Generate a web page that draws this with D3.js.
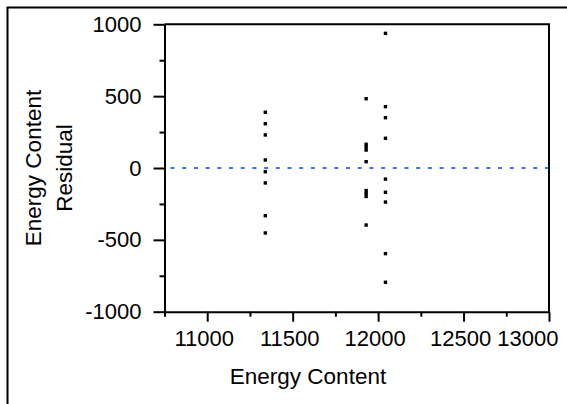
<!DOCTYPE html>
<html>
<head>
<meta charset="utf-8">
<script src="https://cdn.jsdelivr.net/npm/d3@7"></script>
<style>
  html, body { margin: 0; padding: 0; background: #fff; }
  svg { display: block; }
  text { font-family: "Liberation Sans", Arial, sans-serif; fill: #000; }
</style>
</head>
<body>
<script>
// Residual-by-predicted plot for Energy Content
const energyContent = [
  11340, 11340, 11340, 11340, 11340, 11340, 11340, 11340,
  11930, 11930, 11930, 11930, 11930, 11930, 11930, 11930, 11930,
  12043, 12043, 12043, 12043, 12043, 12043, 12043, 12043, 12043
];
const residuals = [
  388, 308, 230, 56, -26, -104, -332, -452,
  482, 165, 145, 125, 44, -157, -177, -198, -397,
  937, 427, 350, 207, -77, -169, -237, -596, -795
];
const xMajorTicks = [11000, 11500, 12000, 12500, 13000];
const xMinorTicks = [10750, 11250, 11750, 12250, 12750];
const yMajorTicks = [-1000, -500, 0, 500, 1000];
const yMinorTicks = [-750, -250, 250, 750];
const xTitle = "Energy Content";
const yTitleLines = ["Energy Content", "Residual"];

const W = 567, H = 404;
const plot = { left: 164.5, right: 549, top: 24.3, bottom: 311.7 };
const fmt = v => String(v); // plain hyphen-minus for negatives

const svg = d3.select("body").append("svg")
  .attr("width", W).attr("height", H);

// outer report frame (top and left edges)
svg.append("path")
  .attr("d", `M7.5,${H} V7.5 H${W}`)
  .attr("fill", "none").attr("stroke", "#000").attr("stroke-width", 2);

const x = d3.scaleLinear().domain([10750, 13000]).range([plot.left, plot.right]);
const y = d3.scaleLinear().domain([-1000, 1000]).range([plot.bottom, plot.top]);

// top and right borders of the plot frame
svg.append("path")
  .attr("d", `M${plot.left},${plot.top} H${plot.right} V${plot.bottom}`)
  .attr("fill", "none").attr("stroke", "#000").attr("stroke-width", 2);

// minor ticks
svg.append("g").attr("transform", `translate(0,${plot.bottom})`)
  .call(d3.axisBottom(x).tickValues(xMinorTicks).tickSize(5).tickSizeOuter(0).tickFormat(""))
  .call(g => g.select(".domain").remove());
svg.append("g").attr("transform", `translate(${plot.left},0)`)
  .call(d3.axisLeft(y).tickValues(yMinorTicks).tickSize(5).tickSizeOuter(0).tickFormat(""))
  .call(g => g.select(".domain").remove());

// major axes
const xAxis = svg.append("g").attr("transform", `translate(0,${plot.bottom})`)
  .call(d3.axisBottom(x).tickValues(xMajorTicks).tickSize(10).tickSizeOuter(0).tickPadding(9).tickFormat(fmt));
const yAxis = svg.append("g").attr("transform", `translate(${plot.left},0)`)
  .call(d3.axisLeft(y).tickValues(yMajorTicks).tickSize(11).tickSizeOuter(0).tickPadding(12).tickFormat(fmt));

svg.selectAll(".tick line, .domain").attr("stroke", "#000").attr("stroke-width", 2);
svg.selectAll(".tick text").attr("font-size", 22).attr("fill", "#000")
  .style("font-family", '"Liberation Sans", Arial, sans-serif');

// shift x labels slightly left and keep the last one inside the page
xAxis.selectAll(".tick text").each(function (d) {
  const t = d3.select(this);
  const bb = this.getBBox();
  const cx = x(d) - 3.5;
  const right = Math.min(cx + bb.width / 2, W - 9);
  t.attr("text-anchor", "middle").attr("x", right - bb.width / 2 - x(d));
});

// zero reference line
svg.append("line")
  .attr("x1", plot.left + 6).attr("x2", plot.right - 1)
  .attr("y1", y(0)).attr("y2", y(0))
  .attr("stroke", "#3f72f6").attr("stroke-width", 2)
  .attr("stroke-dasharray", "4,7.7");

// residual points
const s = 3.4;
svg.append("g").selectAll("rect")
  .data(energyContent.map((e, i) => ({ e, r: residuals[i] })))
  .join("rect")
  .attr("x", d => x(d.e) - s / 2)
  .attr("y", d => y(d.r) - s / 2)
  .attr("width", s).attr("height", s)
  .attr("fill", "#000");

// axis titles
svg.append("text")
  .attr("x", 308).attr("y", 384)
  .attr("text-anchor", "middle").attr("font-size", 22.5)
  .text(xTitle);

const yTitle = svg.append("g").attr("transform", `translate(40.5,${(plot.top + plot.bottom) / 2}) rotate(-90)`);
yTitle.selectAll("text").data(yTitleLines).join("text")
  .attr("x", 0).attr("y", (d, i) => i * 31)
  .attr("text-anchor", "middle").attr("font-size", 22.5)
  .text(d => d);
</script>
</body>
</html>
